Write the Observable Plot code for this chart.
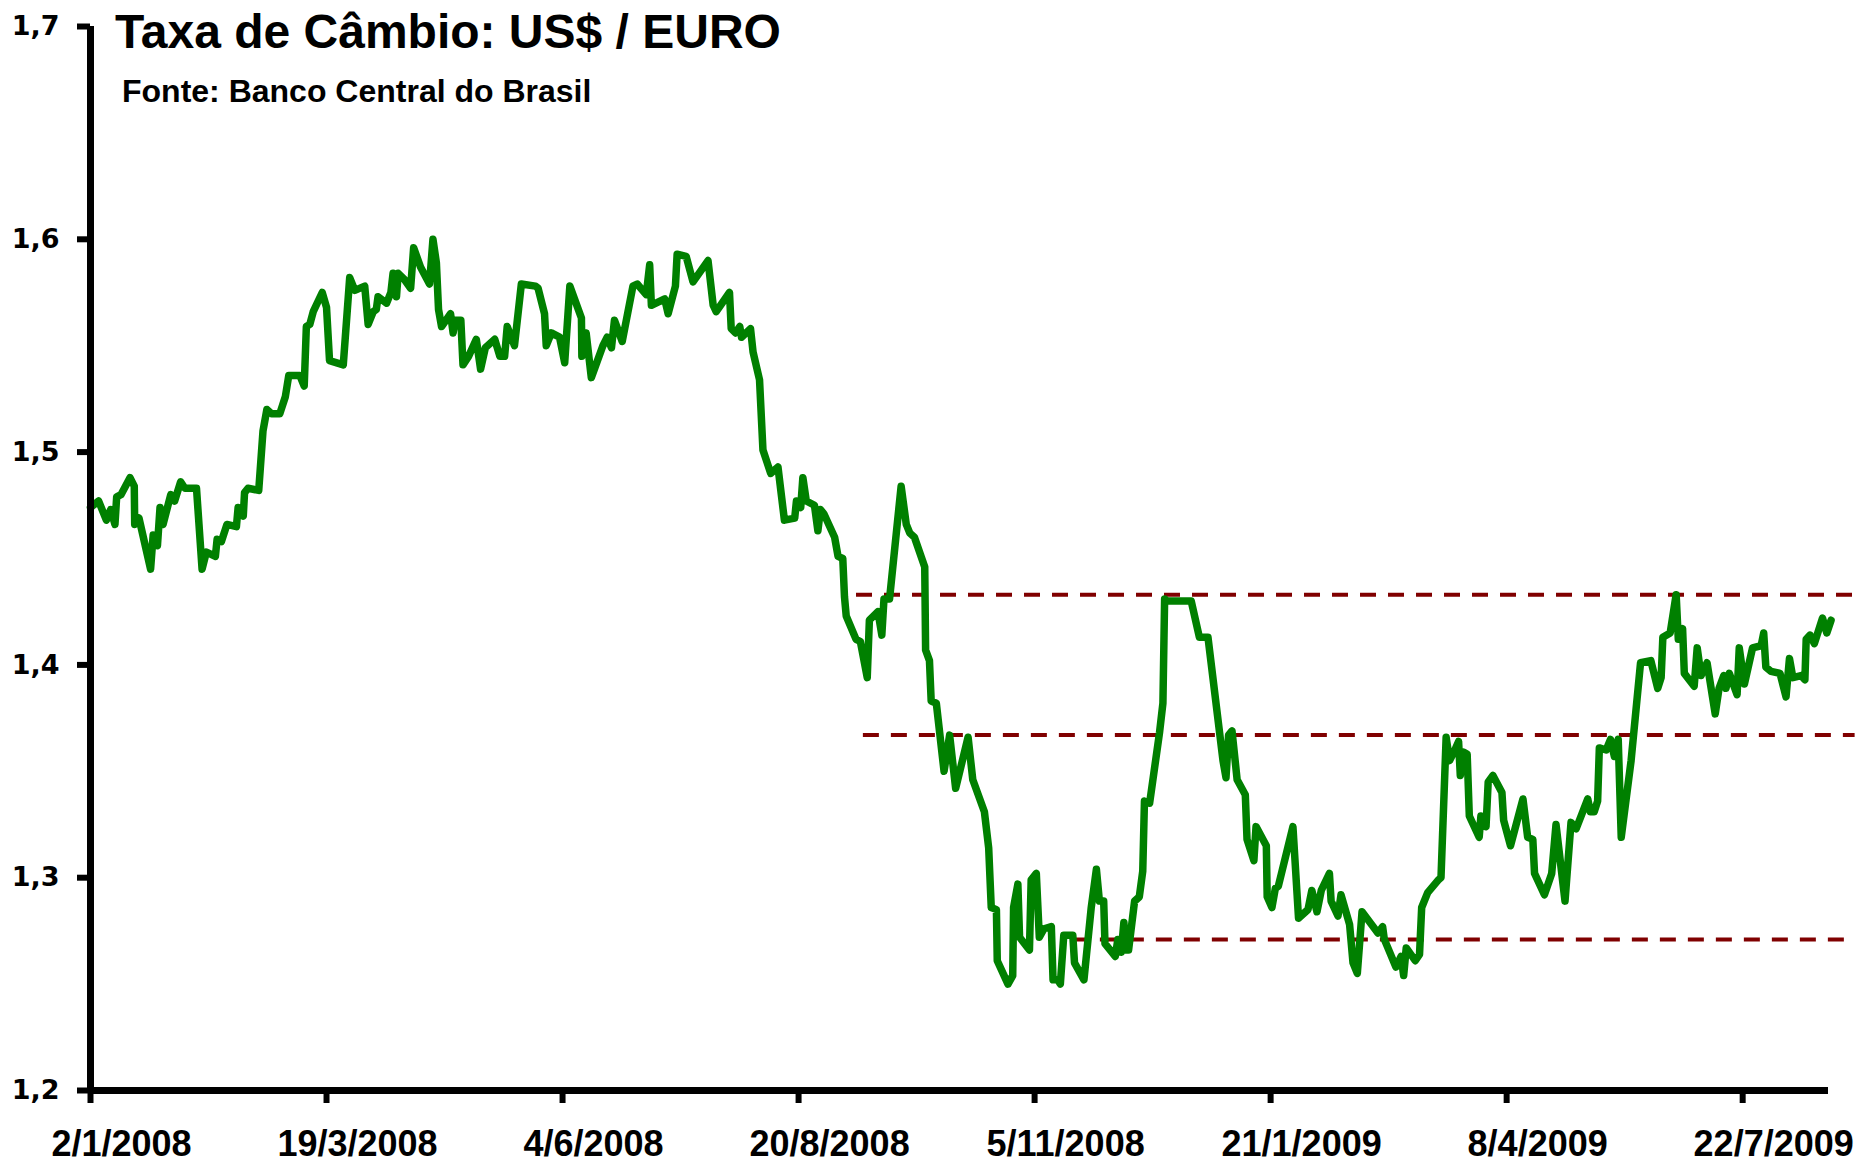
<!DOCTYPE html>
<html><head><meta charset="utf-8">
<script src="https://cdn.jsdelivr.net/npm/d3@7"></script>
<script src="https://cdn.jsdelivr.net/npm/@observablehq/plot@0.6"></script>
<style>
body{margin:0;background:#fff;}
#wrap{position:relative;width:1858px;height:1164px;overflow:hidden;}
#title{position:absolute;left:115px;top:8px;font:bold 48px "Liberation Sans",Arial,sans-serif;line-height:48px;white-space:nowrap;color:#000;}
#sub{position:absolute;left:122px;top:75px;font:bold 32px "Liberation Sans",Arial,sans-serif;line-height:32px;white-space:nowrap;color:#000;}
</style></head>
<body><div id="wrap"><div id="chart"></div><div id="title">Taxa de Câmbio: US$ / EURO</div><div id="sub">Fonte: Banco Central do Brasil</div></div>
<script>
// position of each observation in the series (business-day index)
const pointIndex = [0,1.9,3.7,4.7,5.7,6.1,7.1,9.2,10.2,10.3,11.3,14.0,14.6,15.6,16.2,16.9,18.7,19.6,21.0,22.0,24.7,26.0,27.0,29.1,29.5,30.5,31.8,34.0,34.4,35.6,35.9,36.7,39.2,40.2,41.1,42.2,44.1,45.4,46.2,48.8,49.8,50.3,51.1,51.9,54.0,55.0,55.7,58.9,60.4,61.6,63.9,64.7,65.9,66.6,67.0,
69.0,70.0,70.5,71.3,71.7,73.2,74.6,75.3,76.9,79.0,79.8,80.6,81.1,81.8,83.9,84.5,85.0,86.3,86.8,88.1,89.9,90.9,92.0,94.2,95.4,96.5,97.1,98.8,100.4,103.7,104.3,105.8,106.2,107.4,109.3,110.5,111.7,114.4,114.5,115.5,116.7,119.4,120.4,121.4,122.1,123.9,126.4,127.4,129.5,130.3,130.7,133.8,134.6,136.3,136.7,138.8,140.4,
143.9,145.1,145.8,148.9,149.3,150.3,151.3,151.7,153.8,154.4,155.9,156.7,158.5,160.2,161.7,164.1,164.5,165.5,166.0,166.8,168.7,169.5,170.1,170.9,173.4,174.2,175.3,175.7,176.1,178.4,179.4,181.0,181.5,183.5,184.4,184.9,186.2,188.9,190.1,190.9,192.0,194.4,194.6,195.5,195.9,197.1,
198.9,200.2,201.6,204.5,205.6,208.3,209.3,209.9,211.1,211.3,213.8,214.9,215.1,216.1,216.5,218.8,219.2,220.4,221.1,222.2,223.9,224.3,225.4,226.0,226.8,228.9,229.3,231.5,233.2,234.4,235.1,236.1,236.4,238.8,239.4,240.2,240.8,241.3,241.9,243.3,244.4,245.2,245.6,246.8,249.1,249.9,250.3,250.9,256.5,258.4,260.4,
263.9,264.6,265.2,266.0,267.2,269.1,269.5,271.1,271.6,274.0,274.2,275.3,276.1,276.8,280.2,281.5,283.7,284.6,285.8,286.8,288.7,289.1,290.7,291.4,293.4,294.2,295.2,296.3,300.0,301.1,301.5,304.2,305.4,306.0,306.6,308.7,309.7,310.2,311.6,314.1,314.7,
315.9,316.7,317.7,318.8,319.2,320.0,320.8,321.3,323.6,324.0,325.2,325.7,326.8,328.9,329.3,330.9,333.8,334.9,336.1,336.5,338.8,340.5,341.5,343.6,345.0,346.2,348.9,349.5,350.4,351.2,351.6,353.2,354.2,355.1,356.0,356.7,
359.0,361.2,363.6,365.2,366.0,366.4,368.1,369.5,370.0,371.0,371.4,373.7,374.4,375.3,376.7,378.6,379.5,380.6,381.1,381.9,383.7,384.2,385.4,387.3,389.3,389.9,390.4,391.6,393.7,395.1,395.9,396.7,398.6,399.5,399.8,400.7,401.7,403.6,404.6,405.6];

// US$ per EURO
const rate = [1.474,1.477,1.468,1.473,1.466,1.479,1.480,1.488,1.484,1.466,1.469,1.445,1.461,1.456,1.474,1.466,1.480,1.477,1.486,1.483,1.483,1.445,1.453,1.451,1.459,1.458,1.466,1.465,1.474,1.470,1.481,1.483,1.482,1.510,1.520,1.518,1.518,1.526,1.536,1.536,1.531,1.559,1.560,1.566,1.575,1.568,1.543,1.541,1.582,1.576,1.578,1.560,1.566,1.567,1.573,
1.570,1.575,1.584,1.573,1.584,1.581,1.577,1.596,1.587,1.579,1.600,1.589,1.567,1.559,1.565,1.556,1.562,1.562,1.541,1.545,1.553,1.539,1.549,1.553,1.545,1.545,1.559,1.550,1.579,1.578,1.577,1.565,1.550,1.556,1.554,1.542,1.578,1.563,1.545,1.556,1.535,1.550,1.554,1.549,1.562,1.552,1.578,1.579,1.574,1.588,1.569,1.572,1.565,1.578,1.593,1.592,1.580,
1.590,1.569,1.566,1.575,1.558,1.556,1.559,1.554,1.558,1.547,1.534,1.501,1.490,1.493,1.468,1.469,1.477,1.474,1.488,1.477,1.475,1.463,1.473,1.471,1.460,1.451,1.450,1.432,1.423,1.412,1.411,1.394,1.421,1.425,1.414,1.431,1.431,1.484,1.466,1.462,1.460,1.446,1.407,1.402,1.383,1.382,
1.350,1.367,1.342,1.366,1.346,1.331,1.314,1.286,1.285,1.261,1.250,1.254,1.286,1.297,1.272,1.266,1.299,1.302,1.272,1.276,1.277,1.252,1.252,1.250,1.273,1.273,1.260,1.252,1.286,1.304,1.289,1.289,1.269,1.263,1.271,1.265,1.279,1.266,1.266,1.289,1.291,1.303,1.336,1.335,1.368,1.382,1.431,1.430,1.430,1.413,1.413,
1.355,1.347,1.367,1.369,1.346,1.339,1.318,1.308,1.324,1.315,1.291,1.286,1.295,1.296,1.324,1.281,1.285,1.294,1.284,1.294,1.302,1.289,1.282,1.292,1.278,1.260,1.255,1.284,1.274,1.277,1.271,1.258,1.263,1.254,1.267,1.261,1.264,1.286,1.293,1.299,1.300,
1.366,1.355,1.359,1.364,1.348,1.359,1.358,1.329,1.319,1.329,1.324,1.345,1.348,1.340,1.327,1.315,1.337,1.319,1.318,1.302,1.292,1.302,1.325,1.289,1.326,1.323,1.337,1.331,1.331,1.336,1.361,1.360,1.365,1.357,1.365,1.319,
1.355,1.401,1.402,1.389,1.394,1.413,1.415,1.433,1.412,1.417,1.396,1.390,1.408,1.395,1.401,1.377,1.389,1.395,1.389,1.396,1.386,1.408,1.391,1.408,1.409,1.415,1.399,1.397,1.396,1.385,1.403,1.394,1.395,1.393,1.412,1.414,1.410,1.422,1.415,1.421];

const xTickIndex = [0,55,110,165,220,275,330,385];
const xTickLabels = ["2/1/2008","19/3/2008","4/6/2008","20/8/2008","5/11/2008","21/1/2009","8/4/2009","22/7/2009"];
const yTicks = [1.2,1.3,1.4,1.5,1.6,1.7];

// horizontal reference levels (dashed)
const levelValue = [1.433,1.367,1.271];
const levelFrom = [178.5,180.1,228.8];
const levelTo = [411.2,411.2,411.0];

const series = pointIndex.map((i,k)=>({i, v: rate[k]}));
const levels = levelValue.map((v,k)=>({v, x1: levelFrom[k], x2: levelTo[k]}));
const xTicks = xTickIndex.map((i,k)=>({i, label: xTickLabels[k]}));

const chart = Plot.plot({
  width: 1858, height: 1164,
  marginLeft: 90, marginRight: 30, marginTop: 26, marginBottom: 74,
  x: {domain: [0, 405], label: null},
  y: {domain: [1.2, 1.7], label: null},
  style: {background: "white", overflow: "visible"},
  marks: [
    Plot.ruleY(levels, {y: "v", x1: "x1", x2: "x2", stroke: "#800000", strokeWidth: 4, strokeDasharray: "16,12"}),
    Plot.line(series, {x: "i", y: "v", stroke: "#008000", strokeWidth: 7.5, strokeLinejoin: "round", strokeLinecap: "round"}),
    Plot.axisY({ticks: yTicks, tickSize: 13, tickPadding: 18, strokeWidth: 6, stroke: "black",
      tickFormat: d => d.toFixed(1).replace(".", ","),
      fontSize: 27, fontWeight: "bold", fontFamily: "DejaVu Sans", fill: "black"}),
    Plot.axisX({ticks: xTickIndex, tickSize: 13, strokeWidth: 6, stroke: "black", tickFormat: () => ""}),
    Plot.text(xTicks, {x: "i", text: "label", frameAnchor: "bottom", dy: 54, dx: 31, lineAnchor: "middle",
      fontSize: 36, fontWeight: "bold", fontFamily: "Liberation Sans", fill: "black"}),
    Plot.ruleX([0], {y1: 1.2, y2: 1.7, stroke: "black", strokeWidth: 7}),
    Plot.ruleY([1.2], {x1: 0, x2: 405, stroke: "black", strokeWidth: 7})
  ]
});
document.getElementById("chart").appendChild(chart);
</script>
</body></html>
